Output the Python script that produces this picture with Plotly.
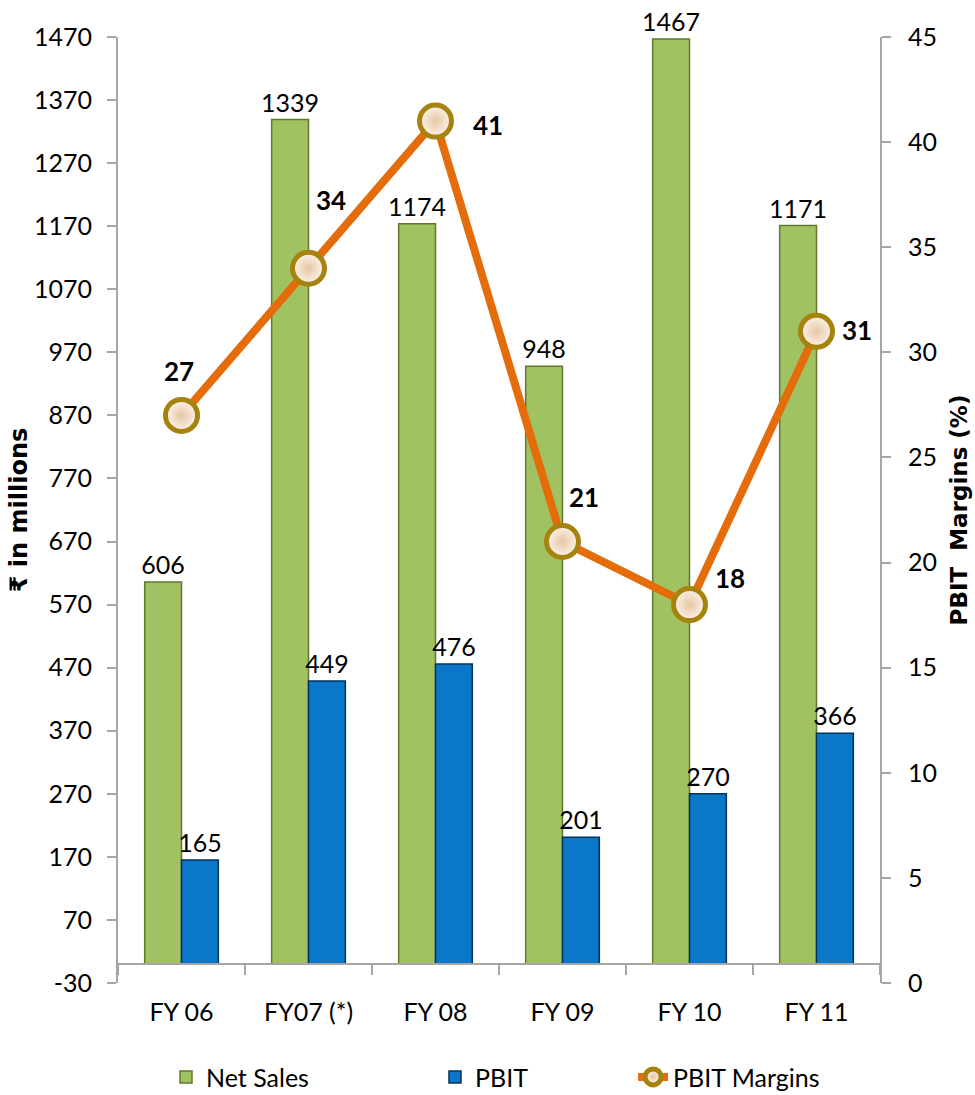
import plotly.graph_objects as go

categories = ["FY 06", "FY07 (*)", "FY 08", "FY 09", "FY 10", "FY 11"]
net_sales = [606, 1339, 1174, 948, 1467, 1171]
pbit = [165, 449, 476, 201, 270, 366]
pbit_margins = [27, 34, 41, 21, 18, 31]
left_ticks = [-30, 70, 170, 270, 370, 470, 570, 670, 770, 870, 970, 1070, 1170, 1270, 1370, 1470]
right_ticks = [0, 5, 10, 15, 20, 25, 30, 35, 40, 45]

# label offsets (pixels) for the margin labels
margin_label_dx = [-3, 22, 52, 21, 40, 40]
margin_label_dy = [44, 68, -4, 45, 27, 1]

FONT = "Lato"
fig = go.Figure()

fig.add_trace(go.Bar(
    name="Net Sales", x=categories, y=net_sales,
    marker=dict(color="#A0C262", line=dict(color="#5F7A2A", width=1.5)),
    text=[str(v) for v in net_sales], textposition="outside",
    textfont=dict(family=FONT, size=25, color="#000000"),
    constraintext="none", cliponaxis=False, legend="legend",
))
fig.add_trace(go.Bar(
    name="PBIT", x=categories, y=pbit,
    marker=dict(color="#0A77C9", line=dict(color="#00345E", width=1.5)),
    text=[str(v) for v in pbit], textposition="outside",
    textfont=dict(family=FONT, size=25, color="#000000"),
    constraintext="none", cliponaxis=False, legend="legend2",
))
fig.add_trace(go.Scatter(
    name="PBIT Margins", x=categories, y=pbit_margins, yaxis="y2",
    mode="lines+markers",
    line=dict(color="#E46C0A", width=8),
    marker=dict(size=32, color="#FDF3EC",
                gradient=dict(type="radial", color="#E6C7A4"),
                line=dict(color="#A6820E", width=5)),
    cliponaxis=False, legend="legend3",
))

for c, v, dx, dy in zip(categories, pbit_margins, margin_label_dx, margin_label_dy):
    fig.add_annotation(x=c, y=v, xref="x", yref="y2", text="<b>%d</b>" % v,
                       showarrow=False, xshift=dx, yshift=dy,
                       font=dict(family=FONT, size=26, color="#000000"))

axis_col = "#A6A6A6"
leg_y = -0.0995
fig.update_layout(
    width=975, height=1095,
    margin=dict(l=118, r=95, t=37, b=112, autoexpand=False),
    paper_bgcolor="white", plot_bgcolor="white",
    barmode="group", bargap=0.42, bargroupgap=0,
    showlegend=True,
    font=dict(family=FONT, size=25, color="#000000"),
    xaxis=dict(type="category", anchor="free", position=0.02,
               showline=True, linecolor=axis_col, linewidth=2,
               ticks="outside", tickson="boundaries", ticklen=10,
               tickcolor=axis_col, tickwidth=2, showgrid=False,
               ticklabelstandoff=26,
               tickfont=dict(family=FONT, size=25)),
    yaxis=dict(range=[-30, 1470], tickmode="array", tickvals=left_ticks,
               ticktext=[str(v) for v in left_ticks],
               showline=True, linecolor=axis_col, linewidth=2,
               ticks="outside", ticklen=9, tickcolor=axis_col, tickwidth=2,
               showgrid=False, zeroline=False, ticklabelstandoff=10,
               tickfont=dict(family=FONT, size=25),
               title=dict(text="<b>₹ in millions</b>", standoff=0,
                          font=dict(family="DejaVu Sans", size=24))),
    yaxis2=dict(range=[0, 45], tickmode="array", tickvals=right_ticks,
                ticktext=[str(v) for v in right_ticks],
                overlaying="y", side="right",
                showline=True, linecolor=axis_col, linewidth=2,
                ticks="outside", ticklen=9, tickcolor=axis_col, tickwidth=2,
                showgrid=False, zeroline=False, ticklabelstandoff=12,
                tickfont=dict(family=FONT, size=25),
                title=dict(text="<b>PBIT  Margins (%)</b>", standoff=15,
                           font=dict(family="DejaVu Sans", size=23))),
    legend=dict(x=0.063, y=leg_y, xanchor="left", yanchor="middle",
                bgcolor="rgba(0,0,0,0)", font=dict(family=FONT, size=25)),
    legend2=dict(x=0.416, y=leg_y, xanchor="left", yanchor="middle",
                 bgcolor="rgba(0,0,0,0)", font=dict(family=FONT, size=25)),
    legend3=dict(x=0.676, y=leg_y, xanchor="left", yanchor="middle",
                 bgcolor="rgba(0,0,0,0)", font=dict(family=FONT, size=25)),
)

fig.write_html("out.html")
